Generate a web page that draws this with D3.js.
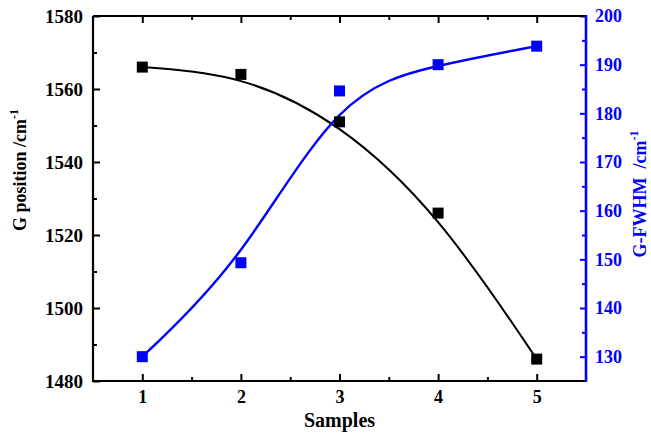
<!DOCTYPE html>
<html>
<head>
<meta charset="utf-8">
<script src="https://cdn.jsdelivr.net/npm/d3@7/dist/d3.min.js"></script>
<style>
  html, body { margin: 0; padding: 0; background: #fff; }
  svg { display: block; }
  text { font-family: "Liberation Serif", "Times New Roman", serif; font-weight: bold; }
</style>
</head>
<body>
<svg id="chart" width="651" height="437"></svg>
<script>
// Raman G band: peak position and width per sample
const samples = [1, 2, 3, 4, 5];
const gPosition = [1566, 1564, 1551, 1526, 1486];
const gFwhm = [130, 149.3, 184.6, 190, 193.8];
const xTicks = [1, 2, 3, 4, 5];
const xMinorTicks = [1.5, 2.5, 3.5, 4.5];
const leftTicks = [1480, 1500, 1520, 1540, 1560, 1580];
const leftMinorTicks = [1490, 1510, 1530, 1550, 1570];
const rightTicks = [130, 140, 150, 160, 170, 180, 190, 200];
const rightMinorTicks = [135, 145, 155, 165, 175, 185, 195];

const BLUE = "#0000ff";
const plot = { left: 93, right: 586, top: 16, bottom: 381 };

const svg = d3.select("#chart");

const x = d3.scaleLinear().domain([0.5, 5.5]).range([plot.left, plot.right]);
const yL = d3.scaleLinear().domain([1480, 1580]).range([plot.bottom, plot.top]);
const yR = d3.scaleLinear().domain([125, 200]).range([plot.bottom, plot.top]);

function styleAxis(g, color, size) {
  g.select(".domain").remove();
  g.selectAll(".tick line").attr("stroke", color).attr("stroke-width", 2);
  g.selectAll(".tick text")
    .attr("fill", color)
    .style("font-size", size + "px")
    .style("font-family", "'Liberation Serif', 'Times New Roman', serif")
    .style("font-weight", "bold");
}

// bottom axis (ticks inward)
svg.append("g").attr("transform", `translate(0,${plot.bottom})`)
  .call(d3.axisBottom(x).tickValues(xTicks).tickFormat(d3.format("d")).tickSize(-7).tickPadding(9))
  .call(g => styleAxis(g, "#000", 18));
svg.append("g").attr("transform", `translate(0,${plot.bottom})`)
  .call(d3.axisBottom(x).tickValues(xMinorTicks).tickFormat("").tickSize(-4))
  .call(g => styleAxis(g, "#000", 18));

// top axis (ticks only)
svg.append("g").attr("transform", `translate(0,${plot.top})`)
  .call(d3.axisTop(x).tickValues(xTicks).tickFormat("").tickSize(-7))
  .call(g => styleAxis(g, "#000", 18));
svg.append("g").attr("transform", `translate(0,${plot.top})`)
  .call(d3.axisTop(x).tickValues(xMinorTicks).tickFormat("").tickSize(-4))
  .call(g => styleAxis(g, "#000", 18));

// left axis
svg.append("g").attr("transform", `translate(${plot.left},0)`)
  .call(d3.axisLeft(yL).tickValues(leftTicks).tickFormat(d3.format("d")).tickSize(-7).tickPadding(10))
  .call(g => styleAxis(g, "#000", 19));
svg.append("g").attr("transform", `translate(${plot.left},0)`)
  .call(d3.axisLeft(yL).tickValues(leftMinorTicks).tickFormat("").tickSize(-4))
  .call(g => styleAxis(g, "#000", 19));

// right axis
svg.append("g").attr("transform", `translate(${plot.right},0)`)
  .call(d3.axisRight(yR).tickValues(rightTicks).tickFormat(d3.format("d")).tickSize(-6).tickPadding(9))
  .call(g => styleAxis(g, BLUE, 18));
svg.append("g").attr("transform", `translate(${plot.right},0)`)
  .call(d3.axisRight(yR).tickValues(rightMinorTicks).tickFormat("").tickSize(-4))
  .call(g => styleAxis(g, BLUE, 18));

// frame
svg.append("path")
  .attr("d", `M${plot.left},${plot.top}H${plot.right}M${plot.left},${plot.top}V${plot.bottom}H${plot.right}`)
  .attr("fill", "none").attr("stroke", "#000").attr("stroke-width", 2.2);
svg.append("line")
  .attr("x1", plot.right).attr("x2", plot.right)
  .attr("y1", plot.top - 1).attr("y2", plot.bottom + 1)
  .attr("stroke", BLUE).attr("stroke-width", 2.6);

// smoothed curves
const lineL = d3.line().x((d, i) => x(samples[i])).y(d => yL(d)).curve(d3.curveBasis);
const lineR = d3.line().x((d, i) => x(samples[i])).y(d => yR(d)).curve(d3.curveBasis);

svg.append("path").datum(gPosition).attr("d", lineL)
  .attr("fill", "none").attr("stroke", "#000").attr("stroke-width", 2);
svg.append("path").datum(gFwhm).attr("d", lineR)
  .attr("fill", "none").attr("stroke", BLUE).attr("stroke-width", 2.4);

// markers
const ms = 11;
svg.append("g").selectAll("rect").data(gPosition).join("rect")
  .attr("x", (d, i) => x(samples[i]) - ms / 2).attr("y", d => yL(d) - ms / 2)
  .attr("width", ms).attr("height", ms).attr("fill", "#000");
svg.append("g").selectAll("rect").data(gFwhm).join("rect")
  .attr("x", (d, i) => x(samples[i]) - ms / 2).attr("y", d => yR(d) - ms / 2)
  .attr("width", ms).attr("height", ms).attr("fill", BLUE);

// axis titles
svg.append("text")
  .attr("x", (plot.left + plot.right) / 2).attr("y", 427)
  .attr("text-anchor", "middle").style("font-size", "20px").attr("fill", "#000")
  .text("Samples");

const leftTitle = svg.append("text")
  .attr("transform", "translate(26,170) rotate(-90)")
  .attr("text-anchor", "middle").style("font-size", "18px").attr("fill", "#000");
leftTitle.append("tspan").text("G position /cm");
leftTitle.append("tspan").attr("dy", -8).style("font-size", "12px").text("-1");

const rightTitle = svg.append("text")
  .attr("transform", "translate(646,194) rotate(-90)")
  .attr("text-anchor", "middle").style("font-size", "18px").attr("fill", BLUE);
rightTitle.append("tspan").text("G-FWHM\u00a0\u00a0/cm");
rightTitle.append("tspan").attr("dy", -8).style("font-size", "12px").text("-1");
</script>
</body>
</html>
